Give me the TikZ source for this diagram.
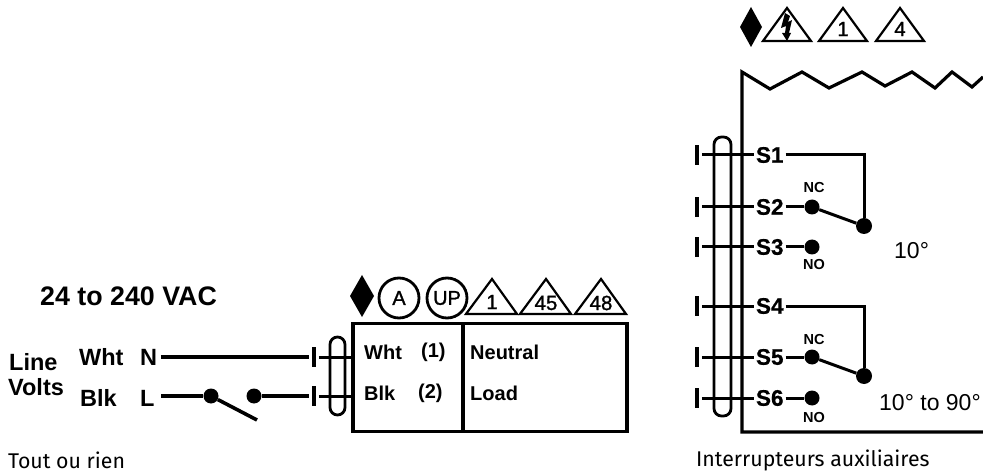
\documentclass[tikz,border=0pt]{standalone}
\usepackage{fontspec}
\setmainfont{Liberation Sans}
\newfontfamily\capfont{Fira Sans}
\newfontfamily\medfont[FakeBold=1.2]{Liberation Sans}
\newfontfamily\heavyfont[FakeBold=0.8]{Liberation Sans Bold}
\tikzset{
  lbl/.style={inner sep=0pt, font=\bfseries\fontsize{23.5}{23.5}\selectfont},
  smalllbl/.style={inner sep=0pt, font=\bfseries\fontsize{20}{20}\selectfont},
  termlbl/.style={inner sep=0pt, outer sep=2pt, font=\heavyfont\fontsize{22.5}{22.5}\selectfont},
  swlbl/.style={inner sep=0pt, font=\bfseries\fontsize{14.5}{14.5}\selectfont},
  anglbl/.style={inner sep=0pt, font=\fontsize{23}{23}\selectfont},
  caplbl/.style={inner sep=0pt, anchor=west, font=\capfont\fontsize{21.3}{21.3}\selectfont},
  tick/.style={fill=black, inner sep=0pt, outer sep=3pt, minimum width=3.5pt, minimum height=20pt},
  dot/.style={circle, fill=black, inner sep=0pt, minimum size=15pt},
  bigdot/.style={circle, fill=black, inner sep=0pt, minimum size=16pt},
  capsule/.style={draw, line width=2.8pt, rounded corners=7.5pt, inner sep=0pt},
  badge/.style={circle, draw, line width=2.8pt, inner sep=0pt, minimum size=40pt, font=\medfont\fontsize{20}{20}\selectfont},
  tri/.style={line width=2.2pt, line join=miter},
  tridigit/.style={inner sep=0pt, font=\medfont\fontsize{20.5}{20.5}\selectfont},
  wire/.style={line width=3pt},
  heavywire/.style={line width=4.4pt},
  boxpart/.style={draw, line width=3.2pt, inner sep=0pt}
}
\begin{document}
\begin{tikzpicture}[x=1pt, y=-1pt]
  \useasboundingbox (0,0) rectangle (983,473);

  % Left diagram: nodes
  \node[lbl, font=\bfseries\fontsize{26.8}{26.8}\selectfont, anchor=west] (volts) at (40,296) {24 to 240 VAC};
  \node[lbl, anchor=west] (line) at (9,362) {Line};
  \node[lbl, anchor=west] (lvolts) at (8,387) {Volts};
  \node[lbl, anchor=west] (wht) at (79,357) {Wht};
  \node[lbl, anchor=west] (blk) at (80,398) {Blk};
  \node[lbl, outer sep=4pt, anchor=west] (n) at (136,357) {N};
  \node[lbl, outer sep=7pt, anchor=west] (l) at (133,398) {L};
  \node[dot] (lfix) at (211,396) {};
  \node[dot] (lopen) at (254,396) {};
  \coordinate (larm) at (257,420);
  \node[tick] (ticka) at (314,357) {};
  \node[tick] (tickb) at (314,396) {};
  \node[capsule, minimum width=15pt, minimum height=78pt] (lcapsule) at (337.5,376) {};
  \node[boxpart, minimum width=110pt, minimum height=108pt] (boxa) at (408,377.5) {};
  \node[boxpart, minimum width=164pt, minimum height=108pt] (boxb) at (545,377.5) {};
  \node[smalllbl, anchor=west] (whttxt) at (364,352) {Wht};
  \node[smalllbl, anchor=west] (onetxt) at (421,352) {(1)};
  \node[smalllbl, anchor=west] (blktxt) at (364,393) {Blk};
  \node[smalllbl, anchor=west] (twotxt) at (418,393) {(2)};
  \node[smalllbl, anchor=west] (neutral) at (470,352) {Neutral};
  \node[smalllbl, anchor=west] (load) at (470,393) {Load};

  % Left diagram: edges
  \draw[heavywire] (n) -- (ticka);
  \draw[line width=3.6pt] (l.east |- lfix) -- (lfix);
  \draw[line width=3.6pt] (lfix) -- (larm);
  \draw[line width=3.6pt] (lopen) -- (tickb);
  \draw[wire] (ticka) -- (ticka -| boxa.west);
  \draw[wire] (tickb) -- (tickb -| boxa.west);

  % Left diagram: symbols
  \fill (362,275) -- (374,296) -- (362,317) -- (350,296) -- cycle;
  \node[badge] (badgea) at (399,298) {A};
  \node[badge] (badgeup) at (447,298) {UP};
  \draw[tri] (492,279) -- (517,314) -- (466,314) -- cycle;
  \draw[tri] (546,279) -- (571,314) -- (520,314) -- cycle;
  \draw[tri] (601,279) -- (626,314) -- (575,314) -- cycle;
  \node[tridigit] (tria) at (492,302) {1};
  \node[tridigit] (trib) at (546,303) {45};
  \node[tridigit] (tric) at (601,303) {48};

  % Right diagram: symbols
  \fill (751,7) -- (762,27) -- (751,47) -- (740,27) -- cycle;
  \draw[tri] (787,8) -- (811,41) -- (763,41) -- cycle;
  \draw[tri] (843,8) -- (867,41) -- (819,41) -- cycle;
  \draw[tri] (900,8) -- (924,41) -- (876,41) -- cycle;
  \fill (785,13) -- (790,16) -- (788,22) -- (792,20) -- (789,33) -- (791,33) -- (787,41) -- (782,33) -- (785,33) -- (786,26) -- (781,28) -- cycle;
  \node[tridigit] (triq) at (843,29) {1};
  \node[tridigit] (trir) at (900,29) {4};

  % Right diagram: frame
  \draw[line width=3.2pt] (983,432) -- (742,432) -- (742,72) -- (770,89) -- (802,72) -- (829,88) -- (862,72) -- (885,86) -- (912,72) -- (935,88) -- (952,72) -- (972,87) -- (983,77);

  % Right diagram: nodes
  \node[capsule, minimum width=17pt, minimum height=279pt] (rcapsule) at (722.5,276.5) {};
  \foreach \name/\ypos in {1/155, 2/207, 3/247, 4/306, 5/357, 6/398} {
    \node[tick] (t\name) at (697,\ypos) {};
    \node[termlbl, anchor=west] (s\name) at (754,\ypos) {S\name};
    \draw[wire] (t\name) -- (s\name);
  }
  \node[dot] (nca) at (812,207) {};
  \node[dot] (noa) at (812,247) {};
  \node[bigdot] (coma) at (864,226) {};
  \node[dot] (ncb) at (812,357) {};
  \node[dot] (nob) at (812,398) {};
  \node[bigdot] (comb) at (864,376) {};
  \node[swlbl] (nclbla) at (814,188) {NC};
  \node[swlbl] (nolbla) at (814,265) {NO};
  \node[swlbl] (nclblb) at (814,340) {NC};
  \node[swlbl] (nolblb) at (814,418) {NO};
  \node[anglbl, anchor=west] (anga) at (894,251) {10°};
  \node[anglbl, anchor=west] (angb) at (879,403) {10° to 90°};

  % Right diagram: edges
  \draw[wire] (s1) -- (coma |- s1) -- (coma);
  \draw[wire] (s2) -- (nca);
  \draw[wire] (nca) -- (coma);
  \draw[wire] (s3) -- (noa);
  \draw[wire] (s4) -- (comb |- s4) -- (comb);
  \draw[wire] (s5) -- (ncb);
  \draw[wire] (ncb) -- (comb);
  \draw[wire] (s6) -- (nob);

  % Captions
  \node[caplbl] (capa) at (8,460) {Tout ou rien};
  \node[caplbl] (capb) at (696,460) {Interrupteurs auxiliaires};
\end{tikzpicture}
\end{document}
